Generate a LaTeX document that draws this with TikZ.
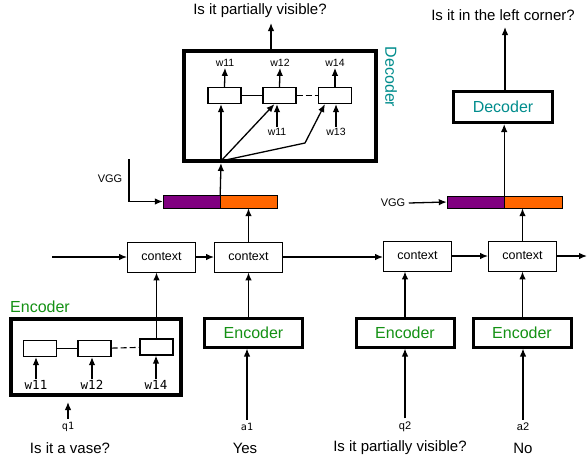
\documentclass[tikz,border=0pt]{standalone}
\usepackage{fontspec}
\setmainfont{Liberation Sans}
\newfontfamily\monofont{DejaVu Sans Mono}
\usepackage{tikz}
\usetikzlibrary{calc,arrows.meta}

\definecolor{encgreen}{RGB}{20,145,20}
\definecolor{decteal}{RGB}{0,140,140}
\definecolor{vggpurple}{RGB}{128,0,128}
\definecolor{vggorange}{RGB}{255,102,0}

\begin{document}
\begin{tikzpicture}[x=1pt,y=-1pt,
    arr/.style={line width=1.3pt,-{Latex[length=8pt,width=6.5pt]}},
    ctxbox/.style={draw,line width=0.9pt,minimum width=68pt,minimum height=30pt,inner sep=0pt,font=\fontsize{12.5}{14}\selectfont},
    encbox/.style={draw,line width=3pt,minimum width=98pt,minimum height=29pt,inner sep=0pt,text=encgreen,font=\fontsize{16}{18}\selectfont},
    bigbox/.style={draw,line width=4pt,inner sep=0pt},
    cell/.style={draw,line width=1.1pt,minimum width=33pt,minimum height=16pt,inner sep=0pt},
    link/.style={line width=1.1pt},
    gap/.style={line width=1.1pt,dash pattern=on 6pt off 3pt},
    wlab/.style={inner sep=1pt,font=\fontsize{10.5}{12}\selectfont},
    wmono/.style={inner sep=1pt,font=\monofont\fontsize{12.5}{14}\selectfont},
    qlab/.style={font=\fontsize{15}{18}\selectfont}]
  \useasboundingbox (0,0) rectangle (587,459);

  % context chain
  \node[ctxbox] (ctx1) at (161.5,257) {context};
  \node[ctxbox] (ctx2) at (248.5,257) {context};
  \node[ctxbox] (ctx3) at (417.5,256) {context};
  \node[ctxbox] (ctx4) at (522.5,256) {context};
  \coordinate (cin) at (52,257);
  \coordinate (cout) at (587,256);
  \draw[arr] (cin) -- (ctx1);
  \draw[arr] (ctx1) -- (ctx2);
  \draw[arr] (ctx2) -- (ctx2 -| ctx3.west);
  \draw[arr] (ctx3) -- (ctx4);
  \draw[arr] (ctx4) -- (cout);

  % first encoder, opened up
  \node[bigbox,minimum width=170pt,minimum height=76pt] (enc1) at (96,357) {};
  \node[text=encgreen,font=\fontsize{16}{18}\selectfont] (enc1lab) at (40,307) {Encoder};
  \node[cell] (e1) at (40,348.5) {};
  \node[cell] (e2) at (94.5,348.5) {};
  \node[cell] (e3) at (156.5,347) {};
  \draw[link] (e1) -- (e2);
  \draw[gap] (e2) -- (e3);
  \node[wmono] (ew1) at (36,385) {w11};
  \node[wmono] (ew2) at (92,385) {w12};
  \node[wmono] (ew3) at (156,385) {w14};
  \draw[arr] (ew1.north) -- (ew1.north |- e1.south);
  \draw[arr] (ew2.north) -- (ew2.north |- e2.south);
  \draw[arr] (ew3.north) -- (ew3.north |- e3.south);
  \draw[arr] (e3) -- (e3 |- ctx1.south);

  % other encoders
  \node[encbox] (enc2) at (253.5,332.5) {Encoder};
  \node[encbox] (enc3) at (405,332.5) {Encoder};
  \node[encbox] (enc4) at (522,332.5) {Encoder};
  \draw[arr] (ctx2.south |- enc2.north) -- (ctx2.south);
  \draw[arr] (enc3) -- (enc3 |- ctx3.south);
  \draw[arr] (ctx4.south |- enc4.north) -- (ctx4.south);

  % inputs
  \node[font=\monofont\fontsize{10}{12}\selectfont] (q1) at (68,427) {q1};
  \node[font=\monofont\fontsize{10}{12}\selectfont] (a1) at (247,427) {a1};
  \node[font=\fontsize{11}{13}\selectfont] (q2) at (405,427) {q2};
  \node[font=\fontsize{11}{13}\selectfont] (a2) at (523,427) {a2};
  \coordinate (q1top) at (68,402);
  \draw[arr] (q1.north) -- (q1top);
  \draw[arr] (a1.north) -- (a1.north |- enc2.south);
  \draw[arr] (q2.north) -- (enc3.south);
  \draw[arr] (a2.north) -- (a2.north |- enc4.south);
  \node[qlab] (t1) at (70,448) {Is it a vase?};
  \node[qlab] (t2) at (245,448) {Yes};
  \node[qlab] (t3) at (400,448) {Is it partially visible?};
  \node[qlab] (t4) at (523,448) {No};

  % image features, first turn
  \node[draw,fill=vggpurple,minimum width=57pt,minimum height=13pt,inner sep=0pt] (vp1) at (191.5,201.5) {};
  \node[draw,fill=vggorange,minimum width=57pt,minimum height=13pt,inner sep=0pt] (vo1) at (248.5,201.5) {};
  \node[font=\fontsize{11}{13}\selectfont] (vgg1) at (110,179) {VGG};
  \coordinate (vtop) at (129,159);
  \draw[arr] (vtop) |- (vp1.west);
  \draw[arr] (ctx2.north) -- (ctx2.north |- vo1.south);

  % decoder, opened up
  \node[bigbox,minimum width=192pt,minimum height=110pt] (dec1) at (280,106) {};
  \node[text=decteal,rotate=-90,font=\fontsize{16}{18}\selectfont] (dec1lab) at (391,77) {Decoder};
  \node[cell] (d1) at (224.5,95.5) {};
  \node[cell] (d2) at (279.5,95.5) {};
  \node[cell] (d3) at (335,95.5) {};
  \draw[link] (d1) -- (d2);
  \draw[gap] (d2) -- (d3);
  \node[wlab] (dw1) at (225,63) {w11};
  \node[wlab] (dw2) at (280,63) {w12};
  \node[wlab] (dw3) at (335,63) {w14};
  \draw[arr] (d1.north) -- (dw1.south);
  \draw[arr] (d2.north) -- (dw2.south);
  \draw[arr] (d3.north) -- (dw3.south);
  \node[wlab] (di1) at (277,132) {w11};
  \node[wlab] (di2) at (336,132) {w13};
  \draw[arr] (di1.north) -- (di1.north |- d2.south);
  \draw[arr] (di2.north) -- (di2.north |- d3.south);
  \coordinate (fan) at (221,161);
  \coordinate (bend) at (305,143);
  \draw[arr] (vp1.north east) -- (221,163);
  \draw[arr] (fan) -- (fan |- d1.south);
  \draw[arr] (fan) -- ($(d2.south west)+(12,0)$);
  \draw[arr] (fan) -- (bend) -- ($(d3.south west)+(7,0)$);
  \coordinate (out1) at (271,23);
  \draw[arr] (dec1.north -| out1) -- (out1);
  \node[qlab] (o1) at (260,11) {Is it partially visible?};

  % image features and decoder, second turn
  \node[draw,fill=vggpurple,minimum width=57pt,minimum height=12pt,inner sep=0pt] (vp2) at (475.5,202) {};
  \node[draw,fill=vggorange,minimum width=58pt,minimum height=12pt,inner sep=0pt] (vo2) at (533,202) {};
  \node[font=\fontsize{11}{13}\selectfont] (vgg2) at (393,203) {VGG};
  \draw[arr] (vgg2.east) -- (vp2.west);
  \draw[arr] (ctx4.north) -- (ctx4.north |- vo2.south);
  \node[draw,line width=3pt,minimum width=99pt,minimum height=31pt,inner sep=0pt,text=decteal,font=\fontsize{16}{18}\selectfont] (dec2) at (503,107) {Decoder};
  \draw[arr] (vp2.north east) -- (vp2.north east |- dec2.south);
  \coordinate (out2) at (505,27);
  \draw[arr] (dec2.north -| out2) -- (out2);
  \node[qlab] (o2) at (503,15) {Is it in the left corner?};
\end{tikzpicture}
\end{document}
